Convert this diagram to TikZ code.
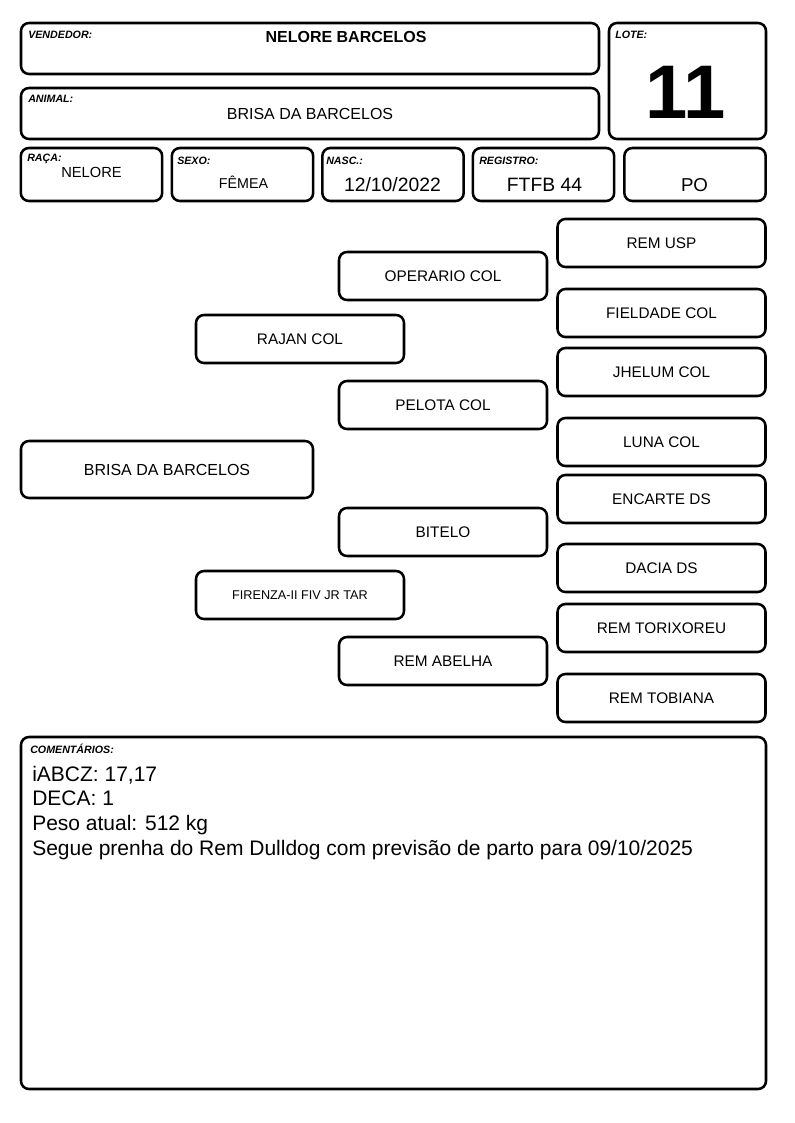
\documentclass[tikz,border=0pt]{standalone}
\usepackage{fontspec}
\setmainfont{Liberation Sans}
\usepackage{tikz}

\begin{document}
\begin{tikzpicture}[
    x=0.75pt, y=-0.75pt,
    box/.style={draw, rounded corners=6pt, line width=1.9pt, inner sep=0pt},
    wide/.style={box, minimum width=433.5pt, minimum height=38.25pt},
    field/.style={box, minimum width=106pt, minimum height=39.75pt},
    anc/.style={box, minimum width=156pt, minimum height=36pt, font=\fontsize{11.5}{13}\selectfont},
    tag/.style={anchor=base west, inner sep=0pt, font=\fontsize{8}{9}\selectfont\bfseries\itshape},
    value/.style={anchor=base, inner sep=0pt, font=\fontsize{14.5}{17}\selectfont}
]
\useasboundingbox (0,0) rectangle (794,1123);

% Header
\node[wide] (vendedor) at (310,48.5) {};
\node[wide] (animal) at (310,113.5) {};
\node[box, minimum width=117.75pt, minimum height=87pt] (lote) at (687.5,81) {};
\node[field] (raca) at (91.5,174.5) {};
\node[field] (sexo) at (242.5,174.5) {};
\node[field] (nasc) at (393,174.5) {};
\node[field] (registro) at (543.5,174.5) {};
\node[field] (po) at (695,174.5) {};

% Labels and values
\node[tag] (tvend) at (28,39) {VENDEDOR:};
\node[value, font=\fontsize{12}{14}\selectfont\bfseries] (vvend) at (346,43) {NELORE BARCELOS};
\node[tag] (tanimal) at (28,103) {ANIMAL:};
\node[value, font=\fontsize{12}{14}\selectfont] (vanimal) at (310,120) {BRISA DA BARCELOS};
\node[tag] (tlote) at (615,39) {LOTE:};
\node[value, font=\fontsize{57}{60}\selectfont\bfseries] (vlote) at (686,119) {11};
\node[tag] (traca) at (27,162) {RAÇA:};
\node[value, font=\fontsize{11}{13}\selectfont] (vraca) at (91.5,178) {NELORE};
\node[tag] (tsexo) at (177,165) {SEXO:};
\node[value, font=\fontsize{10.7}{13}\selectfont] (vsexo) at (243.5,189) {FÊMEA};
\node[tag] (tnasc) at (326,165) {NASC.:};
\node[value] (vnasc) at (392.5,192) {12/10/2022};
\node[tag] (treg) at (479,165) {REGISTRO:};
\node[value] (vreg) at (544.5,192) {FTFB 44};
\node[value, font=\fontsize{14}{17}\selectfont] (vpo) at (694.5,192) {PO};

% Pedigree
\node[box, minimum width=219pt, minimum height=42.75pt, font=\fontsize{12}{14}\selectfont] (brisa) at (167,469.5) {BRISA DA BARCELOS};
\node[anc] (rajan) at (300,339) {RAJAN COL};
\node[anc, font=\fontsize{9.5}{11}\selectfont] (firenza) at (300,595) {FIRENZA-II FIV JR TAR};
\node[anc] (operario) at (443,276) {OPERARIO COL};
\node[anc] (pelota) at (443,405) {PELOTA COL};
\node[anc] (bitelo) at (443,532) {BITELO};
\node[anc] (abelha) at (443,661) {REM ABELHA};
\node[anc] (remusp) at (661.5,243) {REM USP};
\node[anc] (fieldade) at (661.5,313) {FIELDADE COL};
\node[anc] (jhelum) at (661.5,372) {JHELUM COL};
\node[anc] (luna) at (661.5,442) {LUNA COL};
\node[anc] (encarte) at (661.5,499) {ENCARTE DS};
\node[anc] (dacia) at (661.5,568) {DACIA DS};
\node[anc] (torixoreu) at (661.5,628) {REM TORIXOREU};
\node[anc] (tobiana) at (661.5,698) {REM TOBIANA};

% Comments
\node[box, minimum width=558.75pt, minimum height=264pt] (comentarios) at (393.5,913) {};
\node[tag] (tcom) at (30,753) {COMENTÁRIOS:};
\node[anchor=base west, inner sep=0pt, align=left, font=\fontsize{15.75}{18.5}\selectfont] (vcom) at (32,855)
  {iABCZ: 17,17\\DECA: 1\\Peso atual: 512 kg\\Segue prenha do Rem Dulldog com previsão de parto para 09/10/2025};

\end{tikzpicture}
\end{document}
